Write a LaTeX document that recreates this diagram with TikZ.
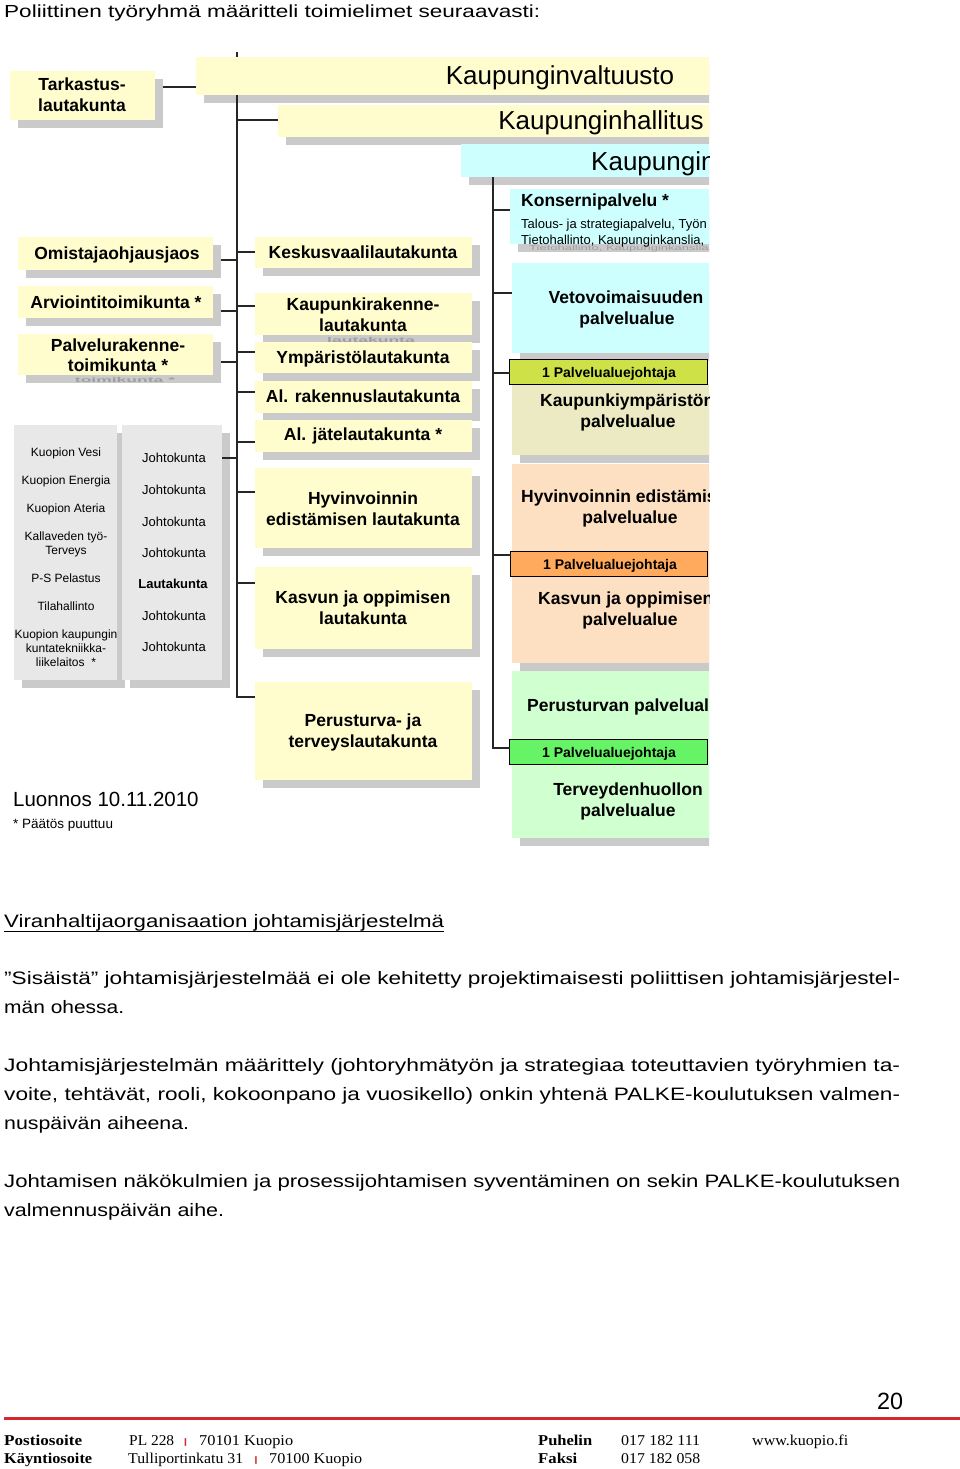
\documentclass[tikz,border=0pt]{standalone}
\usepackage{fontspec}
\setmainfont{Liberation Sans}
\newfontfamily\footserif{Liberation Serif}
\usepackage{graphicx}
\newcommand\fsz[2]{\fontsize{#1}{#2}\selectfont}
\newcommand\fitw[2]{\resizebox{#1pt}{\height}{#2}}
\newcommand\mksh[4]{\fill[shc] (#1+8,#2+8) rectangle (#3+8,#4+8);}
\newcommand\mkbox[6]{\node[#1, minimum width={#4-#2}, minimum height={#5-#3}] (#6) at (#2,#3) {};}
\definecolor{pyel}{RGB}{255,253,206}
\definecolor{shc}{RGB}{202,202,202}
\definecolor{pcyan}{RGB}{206,255,255}
\definecolor{beige}{RGB}{236,234,194}
\definecolor{ygreen}{RGB}{206,226,72}
\definecolor{peach}{RGB}{253,223,194}
\definecolor{orng}{RGB}{255,170,92}
\definecolor{lgreen}{RGB}{208,255,208}
\definecolor{bgreen}{RGB}{102,244,102}
\definecolor{gbox}{RGB}{232,232,232}
\definecolor{fred}{RGB}{212,40,44}
\begin{document}
\begin{tikzpicture}[x=1pt,y=-1pt,
 bx/.style={draw=none,inner sep=0,outer sep=0,anchor=north west},
 pjb/.style={draw=black,line width=1pt,inner sep=0,outer sep=0,anchor=north west},
 conn/.style={draw=black!85,line width=1.5pt},
 ct/.style={font=\bfseries\fsz{17.5}{21},inner sep=0,text height=12.5pt,text depth=0pt},
 ctl/.style={ct,anchor=west},
 cs/.style={font=\fsz{12}{14},inner sep=0,text height=8.6pt,text depth=0pt},
 cj/.style={font=\fsz{13}{15},inner sep=0,text height=9.3pt,text depth=0pt},
 csm/.style={font=\fsz{13}{15},inner sep=0,text height=9.3pt,text depth=0pt,anchor=west},
 cpj/.style={font=\bfseries\fsz{14}{16},inner sep=0,text height=10pt,text depth=0pt},
 big/.style={font=\fsz{26}{30},inner sep=0,anchor=base},
 ghost/.style={text=black!38,inner sep=0},
 bt/.style={anchor=base west,inner sep=0,font=\fsz{18}{22}},
 ft/.style={anchor=base west,inner sep=0,font=\footserif\fsz{15}{18}},
 ftb/.style={anchor=base west,inner sep=0,font=\footserif\bfseries\fsz{15}{18}},
 sep/.style={anchor=base,inner sep=0,text=fred,font=\footserif\bfseries\fsz{10}{12}},
]
\fill[white] (0,0) rectangle (960,1469);
\useasboundingbox (0,0) rectangle (960,1469);

% ---------- title ----------
\node[bt,font=\fsz{17.5}{21}] (title) at (4,17.5) {\fitw{536}{Poliittinen työryhmä määritteli toimielimet seuraavasti:}};

% ---------- chart ----------
\begin{scope}
\clip (0,30) rectangle (709,870);
% shadows
\mksh{10}{71}{155}{120}
\mksh{196}{57}{709}{95}
\mksh{278}{105}{709}{137}
\mksh{461}{144}{709}{177}
\mksh{510}{189}{709}{244}
\mksh{512}{263}{709}{353}
\mksh{512}{384}{709}{455}
\mksh{512}{464}{709}{663}
\mksh{512}{671}{709}{838}
\mksh{255}{237}{472}{268}
\mksh{255}{293}{472}{335}
\mksh{255}{342}{472}{373}
\mksh{255}{381}{472}{413}
\mksh{255}{420}{472}{452}
\mksh{255}{468}{472}{548}
\mksh{255}{567}{472}{649}
\mksh{255}{682}{472}{780}
\mksh{18}{237}{213}{270}
\mksh{18}{286}{213}{318}
\mksh{18}{334}{213}{375}
\mksh{14}{425}{117}{680}
\mksh{122}{425}{222}{680}
% faint text echoes inside the shadow strips (squashed to fit the strip)
\node[ghost,anchor=west,font=\fsz{13}{15}] (gh1) at (529,249) {\scalebox{1}[0.55]{Tietohallinto, Kaupunginkanslia,}};
\node[ghost,font=\bfseries\fsz{17.5}{21}] (gh2) at (371,339.5) {\scalebox{1}[0.4]{lautakunta}};
\node[ghost,font=\bfseries\fsz{17.5}{21}] (gh3) at (125,379.5) {\scalebox{1}[0.4]{toimikunta *}};
% boxes
\mkbox{bx,fill=pyel}{10}{71}{155}{120}{tark}
\mkbox{bx,fill=pyel}{196}{57}{709}{95}{kv}
\mkbox{bx,fill=pyel}{278}{105}{709}{137}{kh}
\mkbox{bx,fill=pcyan}{461}{144}{709}{177}{kj}
\mkbox{bx,fill=pcyan}{510}{189}{709}{244}{kons}
\mkbox{bx,fill=pcyan}{512}{263}{709}{353}{veto}
\mkbox{bx,fill=beige}{512}{384}{709}{455}{kymp}
\mkbox{bx,fill=peach}{512}{464}{709}{663}{hyv}
\mkbox{bx,fill=lgreen}{512}{671}{709}{838}{peru}
\mkbox{pjb,fill=ygreen}{509.5}{359}{707.5}{384}{pja}
\mkbox{pjb,fill=orng}{510.5}{551}{707.5}{576}{pjb}
\mkbox{pjb,fill=bgreen}{509.5}{739}{707.5}{764}{pjc}
\mkbox{bx,fill=pyel}{255}{237}{472}{268}{kesk}
\mkbox{bx,fill=pyel}{255}{293}{472}{335}{kr}
\mkbox{bx,fill=pyel}{255}{342}{472}{373}{ymp}
\mkbox{bx,fill=pyel}{255}{381}{472}{413}{alr}
\mkbox{bx,fill=pyel}{255}{420}{472}{452}{alj}
\mkbox{bx,fill=pyel}{255}{468}{472}{548}{hyvl}
\mkbox{bx,fill=pyel}{255}{567}{472}{649}{kasl}
\mkbox{bx,fill=pyel}{255}{682}{472}{780}{perl}
\mkbox{bx,fill=pyel}{18}{237}{213}{270}{omj}
\mkbox{bx,fill=pyel}{18}{286}{213}{318}{arv}
\mkbox{bx,fill=pyel}{18}{334}{213}{375}{palv}
\mkbox{bx,fill=gbox}{14}{425}{117}{680}{ga}
\mkbox{bx,fill=gbox}{122}{425}{222}{680}{gb}
% connectors
\coordinate (ttop) at (237,52);
\coordinate (tbot) at (237,697);
\draw[conn] (ttop) -- (ttop |- kv.north);
\draw[conn] (ttop |- kv.south) -- (tbot) -- (perl.west |- tbot);
\draw[conn,shorten <=8pt] (tark.east |- 0,87) -- (kv.west |- 0,87);
\draw[conn] (ttop |- 0,120) -- (kh.west |- 0,120);
\draw[conn,shorten >=8pt] (ttop |- 0,260) -- (omj.east |- 0,260);
\draw[conn,shorten >=8pt] (ttop |- 0,311) -- (arv.east |- 0,311);
\draw[conn,shorten >=8pt] (ttop |- 0,362) -- (palv.east |- 0,362);
\draw[conn] (ttop |- 0,458) -- (gb.east |- 0,458);
\draw[conn] (ttop |- 0,252) -- (kesk.west |- 0,252);
\draw[conn] (ttop |- 0,306) -- (kr.west |- 0,306);
\draw[conn] (ttop |- 0,352) -- (ymp.west |- 0,352);
\draw[conn] (ttop |- 0,392) -- (alr.west |- 0,392);
\draw[conn] (ttop |- 0,442) -- (alj.west |- 0,442);
\draw[conn] (ttop |- 0,492) -- (hyvl.west |- 0,492);
\draw[conn] (ttop |- 0,583) -- (kasl.west |- 0,583);
\coordinate (rtop) at (493,177);
\coordinate (rbot) at (493,748);
\draw[conn] (rtop |- kj.south) -- (rbot) -- (pjc.west |- rbot);
\draw[conn] (rtop |- 0,210) -- (kons.west |- 0,210);
\draw[conn] (rtop |- 0,293) -- (veto.west |- 0,293);
\draw[conn] (rtop |- 0,373) -- (pja.west |- 0,373);
\draw[conn] (rtop |- 0,555) -- (pjb.west |- 0,555);
% texts: top
\node[ct] (tarka) at (82,84) {Tarkastus-};
\node[ct] (tarkb) at (82,105) {lautakunta};
\node[big] (kvt) at (560,85) {Kaupunginvaltuusto};
\node[big] (kht) at (601,130) {Kaupunginhallitus};
\node[big,anchor=base west] (kjt) at (591,170.5) {Kaupungin};
% middle column
\node[ct] (keskt) at (363,252) {Keskusvaalilautakunta};
\node[ct] (krta) at (363,304) {Kaupunkirakenne-};
\node[ct] (krtb) at (363,325) {lautakunta};
\node[ct] (ympt) at (363,357) {Ympäristölautakunta};
\node[ct] (alrt) at (363,396) {Al. rakennuslautakunta};
\node[ct] (aljt) at (363,434) {Al. jätelautakunta *};
\node[ct] (hyvla) at (363,498) {Hyvinvoinnin};
\node[ct] (hyvlb) at (363,519) {edistämisen lautakunta};
\node[ct] (kasla) at (363,597) {Kasvun ja oppimisen};
\node[ct] (kaslb) at (363,618) {lautakunta};
\node[ct] (perla) at (363,720) {Perusturva- ja};
\node[ct] (perlb) at (363,741) {terveyslautakunta};
% left column
\node[ct] (omjt) at (117,253) {Omistajaohjausjaos};
\node[ct] (arvt) at (116,302) {Arviointitoimikunta *};
\node[ct] (palva) at (118,345) {Palvelurakenne-};
\node[ct] (palvb) at (118,365) {toimikunta *};
% gray boxes
\node[cs] (ga1) at (66,452) {Kuopion Vesi};
\node[cs] (ga2) at (66,480) {Kuopion Energia};
\node[cs] (ga3) at (66,508) {Kuopion Ateria};
\node[cs] (ga4) at (66,536) {Kallaveden työ-};
\node[cs] (ga5) at (66,550) {Terveys};
\node[cs] (ga6) at (66,578) {P-S Pelastus};
\node[cs] (ga7) at (66,606) {Tilahallinto};
\node[cs] (ga8) at (66,634) {Kuopion kaupungin};
\node[cs] (ga9) at (66,648) {kuntatekniikka-};
\node[cs] (ga10) at (66,662) {liikelaitos\ \ *};
\node[cj] (gb1) at (174,458) {Johtokunta};
\node[cj] (gb2) at (174,490) {Johtokunta};
\node[cj] (gb3) at (174,522) {Johtokunta};
\node[cj] (gb4) at (174,553) {Johtokunta};
\node[cj,font=\bfseries\fsz{13}{15}] (gb5) at (173,584) {Lautakunta};
\node[cj] (gb6) at (174,616) {Johtokunta};
\node[cj] (gb7) at (174,647) {Johtokunta};
% right column
\node[ctl] (konst) at (521,200) {Konsernipalvelu *};
\node[csm] (konsa) at (521,224) {Talous- ja strategiapalvelu, Työn};
\node[csm] (konsb) at (521,239.5) {Tietohallinto, Kaupunginkanslia,};
\node[ct] (vetoa) at (626,297) {Vetovoimaisuuden};
\node[ct] (vetob) at (627,318) {palvelualue};
\node[cpj] (pjat) at (609,372) {1 Palvelualuejohtaja};
\node[ctl] (kympa) at (540,400) {Kaupunkiympäristön};
\node[ct] (kympb) at (628,421) {palvelualue};
\node[ctl] (hyva) at (521,496) {Hyvinvoinnin edistämisen};
\node[ct] (hyvb) at (630,517) {palvelualue};
\node[cpj] (pjbt) at (610,564) {1 Palvelualuejohtaja};
\node[ctl] (kasa) at (538,598) {Kasvun ja oppimisen};
\node[ct] (kasb) at (630,619) {palvelualue};
\node[ctl] (perua) at (527,705) {Perusturvan palvelualue};
\node[cpj] (pjct) at (609,752) {1 Palvelualuejohtaja};
\node[ct] (terva) at (628,789) {Terveydenhuollon};
\node[ct] (tervb) at (628,810) {palvelualue};
\end{scope}
\node[anchor=west,inner sep=0,font=\fsz{20.5}{24},text height=14.7pt,text depth=0pt] (luon) at (13,799) {Luonnos 10.11.2010};
\node[anchor=west,inner sep=0,font=\fsz{13.5}{16},text height=9.7pt,text depth=0pt] (puut) at (13,824) {* Päätös puuttuu};

% ---------- body text ----------
\node[bt] (vir) at (4,927.5) {\fitw{440}{Viranhaltijaorganisaation johtamisjärjestelmä}};
\draw[line width=1.1pt] (vir.south west) -- (vir.south east);
\node[bt] (b1) at (4,984) {\fitw{896}{”Sisäistä” johtamisjärjestelmää ei ole kehitetty projektimaisesti poliittisen johtamisjärjestel-}};
\node[bt] (b2) at (4,1013) {\fitw{120}{män ohessa.}};
\node[bt] (b3) at (4,1071) {\fitw{896}{Johtamisjärjestelmän määrittely (johtoryhmätyön ja strategiaa toteuttavien työryhmien ta-}};
\node[bt] (b4) at (4,1100) {\fitw{896}{voite, tehtävät, rooli, kokoonpano ja vuosikello) onkin yhtenä PALKE-koulutuksen valmen-}};
\node[bt] (b5) at (4,1129) {\fitw{185}{nuspäivän aiheena.}};
\node[bt] (b6) at (4,1187) {\fitw{896}{Johtamisen näkökulmien ja prosessijohtamisen syventäminen on sekin PALKE-koulutuksen}};
\node[bt] (b7) at (4,1216) {\fitw{220}{valmennuspäivän aihe.}};

% ---------- footer ----------
\node[anchor=base west,inner sep=0,font=\fsz{23.5}{28}] (pnum) at (877,1409) {\fitw{26}{20}};
\coordinate (rl1) at (4,1418.5);
\coordinate (rl2) at (960,1418.5);
\draw[fred,line width=3pt] (rl1) -- (rl2);
\node[ftb] (f1) at (4,1445) {\fitw{78}{Postiosoite}};
\node[ft] (f2) at (129,1445) {\fitw{45}{PL 228}};
\node[sep] (f3) at (185.5,1444) {\scalebox{2.2}[0.85]{|}};
\node[ft] (f4) at (199,1445) {\fitw{94}{70101 Kuopio}};
\node[ftb] (f5) at (4,1463) {\fitw{88}{Käyntiosoite}};
\node[ft] (f6) at (128,1463) {\fitw{115}{Tulliportinkatu 31}};
\node[sep] (f7) at (256,1462) {\scalebox{2.2}[0.85]{|}};
\node[ft] (f8) at (269,1463) {\fitw{93}{70100 Kuopio}};
\node[ftb] (f9) at (538,1445) {\fitw{54}{Puhelin}};
\node[ft] (f10) at (621,1445) {\fitw{79}{017 182 111}};
\node[ft] (f11) at (752,1445) {\fitw{96}{www.kuopio.fi}};
\node[ftb] (f12) at (538,1463) {\fitw{39}{Faksi}};
\node[ft] (f13) at (621,1463) {\fitw{79}{017 182 058}};
\end{tikzpicture}
\end{document}
